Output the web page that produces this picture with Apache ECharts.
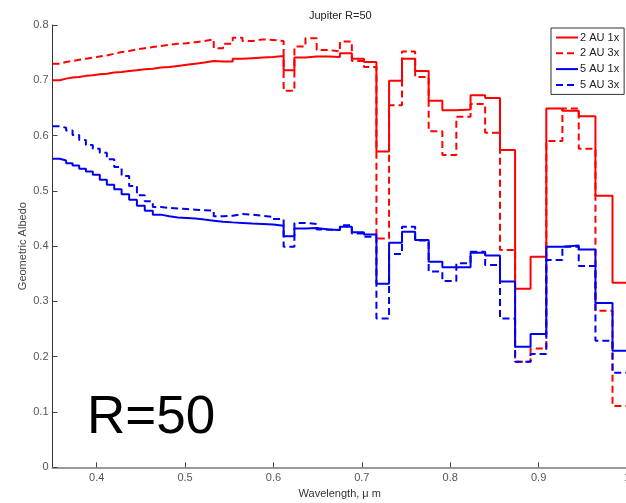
<!DOCTYPE html>
<html>
<head>
<meta charset="utf-8">
<script src="https://cdn.jsdelivr.net/npm/echarts@6/dist/echarts.min.js"></script>
<style>
  html, body { margin: 0; padding: 0; background: #fff; }
  #chart { width: 626px; height: 503px; }
</style>
</head>
<body>
<div id="chart"></div>
<script>
// Start wavelength (µm) of each R=50 spectral bin; the last bin runs to END_WAVELENGTH
const wavelength = [0.35, 0.3583, 0.3654, 0.3727, 0.3802, 0.3878, 0.3956, 0.4035, 0.4115, 0.4198,
  0.4282, 0.4367, 0.4455, 0.4544, 0.4635, 0.4727, 0.4822, 0.4918, 0.5017, 0.5117,
  0.5219, 0.5324, 0.5430, 0.5539, 0.5649, 0.5762, 0.5878, 0.5995, 0.6115, 0.6237,
  0.6362, 0.6489, 0.6619, 0.6752, 0.6887, 0.7024, 0.7165, 0.7308, 0.7454, 0.7603,
  0.7756, 0.7911, 0.8069, 0.8230, 0.8395, 0.8563, 0.8734, 0.8909, 0.9087, 0.9269,
  0.9454, 0.9643, 0.9836];
const END_WAVELENGTH = 1.0;

// Geometric albedo per bin
const au2x1 = [0.700, 0.703, 0.705, 0.706, 0.708, 0.709, 0.711, 0.712, 0.714, 0.715,
  0.717, 0.718, 0.720, 0.721, 0.723, 0.724, 0.726, 0.728, 0.730, 0.732,
  0.735, 0.734, 0.734, 0.739, 0.740, 0.741, 0.742, 0.744, 0.718, 0.741,
  0.743, 0.743, 0.742, 0.749, 0.739, 0.733, 0.571, 0.699, 0.739, 0.717,
  0.663, 0.646, 0.647, 0.673, 0.668, 0.574, 0.323, 0.381, 0.649, 0.645,
  0.635, 0.491, 0.334];
const au2x3 = [0.730, 0.733, 0.735, 0.737, 0.739, 0.741, 0.743, 0.745, 0.748, 0.751,
  0.753, 0.756, 0.758, 0.760, 0.762, 0.764, 0.766, 0.767, 0.769, 0.771,
  0.774, 0.758, 0.766, 0.777, 0.771, 0.774, 0.773, 0.771, 0.681, 0.761,
  0.776, 0.755, 0.752, 0.770, 0.735, 0.724, 0.414, 0.655, 0.752, 0.706,
  0.608, 0.565, 0.634, 0.657, 0.605, 0.393, 0.191, 0.215, 0.590, 0.649,
  0.576, 0.283, 0.111];
const au5x1 = [0.558, 0.555, 0.550, 0.546, 0.540, 0.535, 0.529, 0.520, 0.511, 0.503,
  0.494, 0.484, 0.473, 0.464, 0.457, 0.454, 0.452, 0.451, 0.450, 0.448,
  0.446, 0.444, 0.443, 0.442, 0.441, 0.440, 0.439, 0.437, 0.418, 0.432,
  0.433, 0.430, 0.429, 0.435, 0.425, 0.421, 0.332, 0.406, 0.426, 0.411,
  0.372, 0.362, 0.362, 0.388, 0.383, 0.336, 0.218, 0.241, 0.399, 0.401,
  0.394, 0.297, 0.211];
const au5x3 = [0.617, 0.614, 0.609, 0.601, 0.592, 0.583, 0.576, 0.569, 0.557, 0.543,
  0.527, 0.509, 0.492, 0.481, 0.471, 0.469, 0.468, 0.467, 0.466, 0.465,
  0.464, 0.454, 0.455, 0.458, 0.457, 0.455, 0.453, 0.449, 0.399, 0.442,
  0.440, 0.430, 0.429, 0.438, 0.423, 0.417, 0.269, 0.386, 0.435, 0.410,
  0.354, 0.337, 0.369, 0.390, 0.366, 0.269, 0.191, 0.205, 0.375, 0.399,
  0.364, 0.229, 0.171];

const seriesNames = ['2 AU 1x', '2 AU 3x', '5 AU 1x', '5 AU 3x'];
const xTicks = [0.4, 0.5, 0.6, 0.7, 0.8, 0.9, 1.0];

const RED = '#ff0000';
const BLUE = '#0000f0';
const DASH = [7, 4];

// Build [x, y] pairs for a stairs line: each value holds until the next bin start
function stairs(values) {
  const pts = wavelength.map((w, i) => [w, values[i]]);
  pts.push([END_WAVELENGTH, values[values.length - 1]]);
  return pts;
}

function lineSeries(name, values, color, dashed) {
  return {
    name: name,
    type: 'line',
    step: 'end',
    symbol: 'none',
    showSymbol: false,
    clip: true,
    animation: false,
    data: stairs(values),
    itemStyle: { color: color },
    lineStyle: { color: color, width: 2, type: dashed ? DASH : 'solid' }
  };
}

const FONT = '"Liberation Sans", Arial, Helvetica, sans-serif';

const chart = echarts.init(document.getElementById('chart'), null, { renderer: 'canvas' });
chart.setOption({
  backgroundColor: '#fff',
  animation: false,
  title: {
    text: 'Jupiter R=50',
    left: 304,
    top: 5,
    textStyle: { fontFamily: FONT, fontSize: 11, fontWeight: 'normal', color: '#222' }
  },
  legend: {
    data: seriesNames,
    orient: 'vertical',
    left: 551,
    top: 28,
    padding: [4, 5, 4, 4],
    itemGap: 4.8,
    itemWidth: 22,
    itemHeight: 11,
    backgroundColor: '#fff',
    borderColor: '#333',
    borderWidth: 1,
    borderRadius: 0,
    itemStyle: { opacity: 0 },
    textStyle: { fontFamily: FONT, fontSize: 11, color: '#222', padding: [0, 0, 0, -3] }
  },
  grid: {
    left: 52.5,
    right: -1,
    top: 25,
    bottom: 35.7,
    containLabel: false,
    outerBoundsMode: 'none'
  },
  xAxis: {
    type: 'value',
    min: 0.35,
    max: 1.0,
    name: 'Wavelength, \u03bc m',
    nameLocation: 'middle',
    nameGap: 21,
    nameMoveOverlap: false,
    nameTextStyle: { fontFamily: FONT, fontSize: 11, color: '#333' },
    axisLine: { lineStyle: { color: '#999', width: 2 } },
    axisTick: { inside: true, length: 5, customValues: xTicks, lineStyle: { color: '#444', width: 1 } },
    axisLabel: {
      customValues: xTicks,
      fontFamily: FONT, fontSize: 11, color: '#555', margin: 5,
      formatter: v => (Math.abs(v - 1) < 1e-9 ? '1' : v.toFixed(1))
    },
    splitLine: { show: false }
  },
  yAxis: {
    type: 'value',
    min: 0,
    max: 0.8,
    interval: 0.1,
    name: 'Geometric Albedo',
    nameLocation: 'middle',
    nameGap: 24,
    nameMoveOverlap: false,
    nameTextStyle: { fontFamily: FONT, fontSize: 11, color: '#444' },
    axisLine: { show: true, lineStyle: { color: '#333', width: 1 } },
    axisTick: { show: true, inside: true, length: 5, lineStyle: { color: '#444', width: 1 } },
    axisLabel: {
      fontFamily: FONT, fontSize: 11, color: '#555', margin: 4,
      formatter: v => (v === 0 ? '0' : v.toFixed(1))
    },
    splitLine: { show: false }
  },
  graphic: [{
    type: 'text',
    left: 87,
    top: 392,
    z: 100,
    style: { text: 'R=50', font: '53px ' + FONT, fill: '#000' }
  }],
  series: [
    lineSeries(seriesNames[0], au2x1, RED, false),
    lineSeries(seriesNames[1], au2x3, RED, true),
    lineSeries(seriesNames[2], au5x1, BLUE, false),
    lineSeries(seriesNames[3], au5x3, BLUE, true)
  ]
});
</script>
</body>
</html>
